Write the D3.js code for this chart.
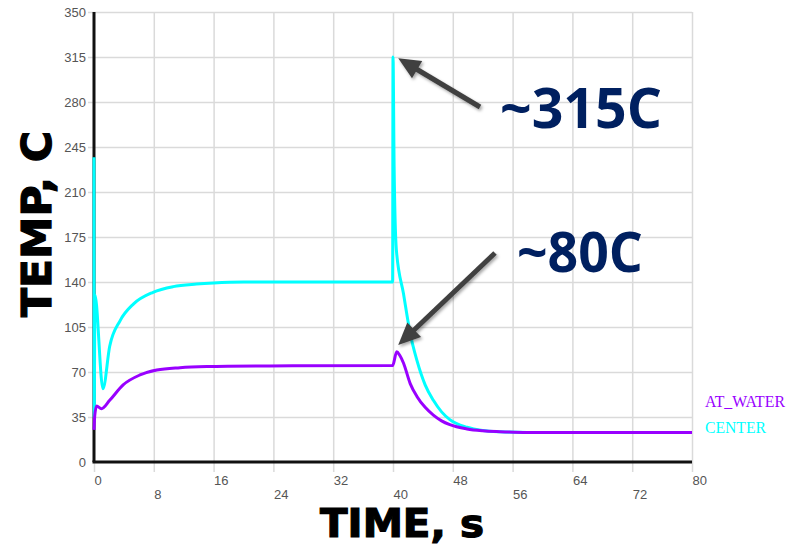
<!DOCTYPE html>
<html>
<head>
<meta charset="utf-8">
<script src="https://cdn.jsdelivr.net/npm/d3@7"></script>
<style>
    body { margin: 0; background: #fff; }
    svg { display: block; }
    .tick text { font-family: 'Liberation Sans', Arial, sans-serif; font-size: 13px; fill: #555; }
    .grid line { stroke: #dadada; stroke-width: 1.5; }
</style>
</head>
<body>
<div id="chart"></div>
<script>
/* globals d3 */

// Series: CENTER (cyan)
var centerTime = [0, 0.03, 0.12, 1.2, 2.1, 3.5, 5.3, 7.9, 10.6, 13.7, 16, 20, 39.95,
    40.0, 40.15, 40.45, 41.4, 42.3, 43.2, 44.3, 45.4, 46.5, 47.6, 49.9, 52, 54.3, 58, 80];
var centerTemp = [237, 34, 130, 57, 90, 110, 123, 132, 136.4, 138.4, 139.3, 140, 140,
    315, 230, 165, 131, 100, 79, 60, 48, 39, 33, 27, 24.5, 23.5, 23, 23];

// Series: AT_WATER (purple)
var waterTime = [0, 0.1, 0.35, 1.0, 2.1, 3.9, 6.15, 8.4, 11.5, 15.1, 23.5, 39.95,
    40.5, 40.9, 41.4, 42.3, 43.2, 44.3, 45.4, 46.5, 47.6, 49.9, 52, 54.3, 58, 80];
var waterTemp = [25, 36, 43.5, 41.5, 48, 60, 67.7, 71.6, 73.4, 74.2, 74.7, 75,
    85.8, 83, 77, 61, 51, 42.5, 36.5, 32, 29, 25.7, 24.3, 23.6, 23, 23];

// Axis ticks
var xTicks = [0, 8, 16, 24, 32, 40, 48, 56, 64, 72, 80];
var yTicks = [0, 35, 70, 105, 140, 175, 210, 245, 280, 315, 350];

var series = [
    {name: 'CENTER', time: centerTime, temp: centerTemp, color: '#00ffff'},
    {name: 'AT_WATER', time: waterTime, temp: waterTemp, color: '#9900ff'}
];

var margin = {top: 12, right: 108, bottom: 83, left: 94};
var chart_width = 800, chart_height = 545;
var width = chart_width - margin.left - margin.right;
var height = chart_height - margin.top - margin.bottom;

var x = d3.scaleLinear().domain([0, 80]).range([0, width]);
var y = d3.scaleLinear().domain([0, 350]).range([height, 0]);

var root = d3.select('#chart').append('svg')
    .attr('width', chart_width)
    .attr('height', chart_height);

var defs = root.append('defs');
var shadow = defs.append('filter').attr('id', 'shadow')
    .attr('x', '-20%').attr('y', '-20%').attr('width', '140%').attr('height', '140%');
shadow.append('feDropShadow')
    .attr('dx', 1.5).attr('dy', 2).attr('stdDeviation', 1.5)
    .attr('flood-color', '#000').attr('flood-opacity', 0.35);

var svg = root.append('g')
    .attr('transform', 'translate(' + margin.left + ',' + margin.top + ')');

// Grid + tick labels
var yAxis = d3.axisLeft(y).tickValues(yTicks).tickSize(-width).tickPadding(8);
var gy = svg.append('g').attr('class', 'grid').call(yAxis);
gy.select('.domain').remove();
gy.selectAll('.tick line').attr('x1', -6);
gy.selectAll('.tick').filter(function(d) { return d === 0; }).select('line').remove();

var xAxis = d3.axisBottom(x).tickValues(xTicks).tickSize(-height);
var gx = svg.append('g').attr('class', 'grid')
    .attr('transform', 'translate(0,' + height + ')')
    .call(xAxis);
gx.select('.domain').remove();
gx.selectAll('.tick line').attr('y1', 10);
gx.selectAll('.tick').filter(function(d) { return d === 0; }).select('line').attr('y2', 0);
gx.selectAll('.tick text')
    .style('text-anchor', 'start')
    .attr('x', 0)
    .attr('y', function(d, i) { return i % 2 === 0 ? 14 : 28; });

// Black axis lines
svg.append('line')
    .attr('x1', 0).attr('x2', 0).attr('y1', 0).attr('y2', height)
    .attr('stroke', '#111').attr('stroke-width', 3);
svg.append('line')
    .attr('x1', -1.5).attr('x2', width).attr('y1', height).attr('y2', height)
    .attr('stroke', '#111').attr('stroke-width', 3);

// Series lines
var line = d3.line()
    .x(function(d) { return x(d[0]); })
    .y(function(d) { return y(d[1]); })
    .curve(d3.curveMonotoneX);

series.forEach(function(s) {
    svg.append('path')
        .datum(d3.zip(s.time, s.temp))
        .attr('fill', 'none')
        .attr('stroke', s.color)
        .attr('stroke-width', 3)
        .attr('stroke-linejoin', 'round')
        .attr('d', line);
});

// Legend
var legend = [
    {name: 'AT_WATER', color: '#9900ff', y: 407, len: 80},
    {name: 'CENTER', color: '#00ffff', y: 433, len: 61}
];
legend.forEach(function(l) {
    root.append('text')
        .attr('x', 705).attr('y', l.y)
        .attr('fill', l.color)
        .attr('font-family', 'Liberation Serif, serif')
        .attr('font-size', 17)
        .attr('textLength', l.len)
        .attr('lengthAdjust', 'spacingAndGlyphs')
        .text(l.name);
});

// Axis titles
root.append('text')
    .attr('transform', 'translate(51,224) rotate(-90)')
    .attr('text-anchor', 'middle')
    .attr('font-family', 'DejaVu Sans, sans-serif')
    .attr('font-weight', 'bold')
    .attr('font-size', 41)
    .attr('stroke', '#000').attr('stroke-width', 1.2)
    .attr('textLength', 186)
    .attr('lengthAdjust', 'spacingAndGlyphs')
    .text('TEMP, C');

root.append('text')
    .attr('x', 402).attr('y', 537)
    .attr('text-anchor', 'middle')
    .attr('font-family', 'DejaVu Sans, sans-serif')
    .attr('font-weight', 'bold')
    .attr('font-size', 39)
    .attr('stroke', '#000').attr('stroke-width', 1.2)
    .attr('textLength', 164)
    .attr('lengthAdjust', 'spacingAndGlyphs')
    .text('TIME, s');

// Annotations with arrows
var notes = [
    {text: '~315C', tx: 500, ty: 128, len: 162, tail: [480, 107], tip: [x(40.7), y(314)]},
    {text: '~80C', tx: 517, ty: 272, len: 126, tail: [495, 253], tip: [x(40.7), y(91)]}
];

notes.forEach(function(n) {
    var tail = [n.tail[0] - margin.left, n.tail[1] - margin.top];
    var tip = n.tip;
    var dx = tip[0] - tail[0], dy = tip[1] - tail[1];
    var len = Math.sqrt(dx * dx + dy * dy);
    var ux = dx / len, uy = dy / len;
    var headLen = 22, headW = 10;
    var base = [tip[0] - ux * headLen, tip[1] - uy * headLen];
    var g = svg.append('g').attr('filter', 'url(#shadow)');
    g.append('line')
        .attr('x1', tail[0]).attr('y1', tail[1])
        .attr('x2', base[0] + ux * 2).attr('y2', base[1] + uy * 2)
        .attr('stroke', '#404040').attr('stroke-width', 5);
    g.append('path')
        .attr('d', 'M' + tip[0] + ',' + tip[1] +
            'L' + (base[0] - uy * headW) + ',' + (base[1] + ux * headW) +
            'L' + (base[0] + uy * headW) + ',' + (base[1] - ux * headW) + 'Z')
        .attr('fill', '#404040');

    root.append('text')
        .attr('x', n.tx).attr('y', n.ty)
        .attr('fill', '#002060')
        .attr('font-family', 'Open Sans, sans-serif')
        .attr('font-weight', 'bold')
        .attr('font-size', 55)
        .attr('textLength', n.len)
        .attr('lengthAdjust', 'spacingAndGlyphs')
        .text(n.text);
});
</script>
</body>
</html>
